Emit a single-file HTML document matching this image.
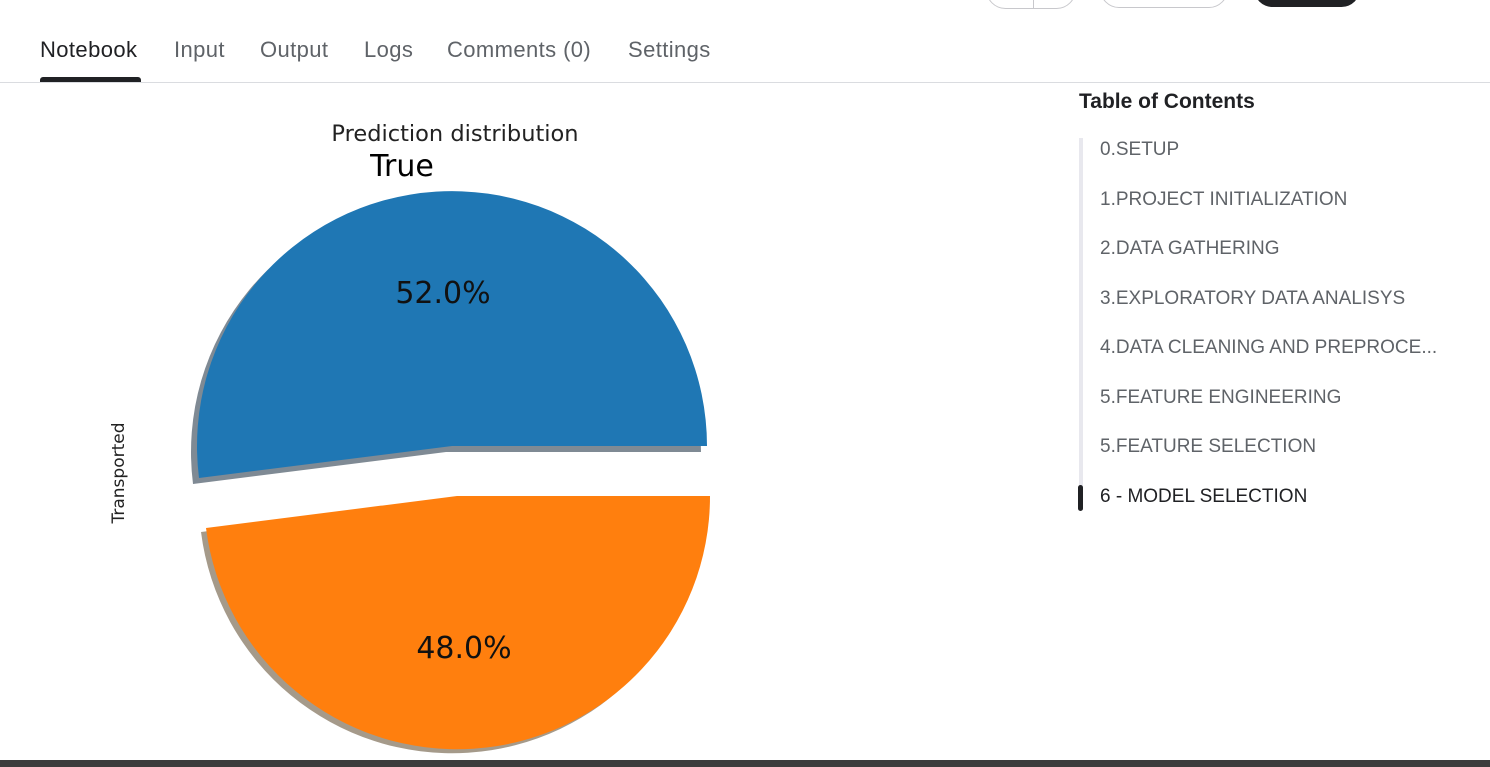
<!DOCTYPE html>
<html><head><meta charset="utf-8"><style>
body{margin:0;width:1490px;height:767px;background:#fff;position:relative;overflow:hidden;font-family:"Liberation Sans",sans-serif;}
.tab{position:absolute;top:37px;font-size:22px;letter-spacing:0.4px;color:#5f6368;}
.toc{position:absolute;left:1100px;font-size:19px;color:#5f6368;}
</style></head><body>
<div style="position:absolute;left:986px;top:-30px;width:88px;height:37px;border:1px solid #c8c8cc;border-radius:20px;"></div>
<div style="position:absolute;left:1033px;top:0;width:1px;height:8px;background:#c8c8cc"></div>
<div style="position:absolute;left:1100px;top:-30px;width:126px;height:36px;border:1px solid #c8c8cc;border-radius:20px;"></div>
<div style="position:absolute;left:1254px;top:-30px;width:106px;height:37px;background:#202124;border-radius:20px;"></div>

<div class="tab" style="left:40px;color:#202124">Notebook</div>
<div class="tab" style="left:174px">Input</div>
<div class="tab" style="left:260px">Output</div>
<div class="tab" style="left:364px">Logs</div>
<div class="tab" style="left:447px">Comments (0)</div>
<div class="tab" style="left:628px">Settings</div>
<div style="position:absolute;left:40px;top:77px;width:101px;height:6px;background:#202124;border-radius:3px 3px 0 0"></div>
<div style="position:absolute;left:0;top:82px;width:1490px;height:1px;background:#dadce0"></div>

<svg style="position:absolute;left:0;top:0" width="1060" height="767">
<g font-family="DejaVu Sans, sans-serif" fill="#000">
<text x="455" y="141" font-size="22.5" text-anchor="middle" fill="#222">Prediction distribution</text>
<text x="402" y="176" font-size="30" text-anchor="middle">True</text>
<text x="124" y="473" font-size="17" text-anchor="middle" transform="rotate(-90 124 473)" fill="#222">Transported</text>
</g>
<path d="M446,452 L701,452 A255 255 0 1 0 193,484 Z" fill="#7f8a94"/>
<path d="M452,446 L707,446 A255 255 0 1 0 199,478 Z" fill="#1f77b4"/>
<path d="M452,500 L201,532 A253 253 0 0 0 705,500 Z" fill="#a59a8a"/>
<path d="M457,496 L206,528 A253 253 0 0 0 710,496 Z" fill="#ff7f0e"/>
<g font-family="DejaVu Sans, sans-serif" font-size="30" text-anchor="middle" fill="#111">
<text x="443" y="303">52.0%</text>
<text x="464" y="658">48.0%</text>
</g>
</svg>

<div style="position:absolute;left:1079px;top:90px;font-size:21px;font-weight:bold;color:#202124">Table of Contents</div>
<div style="position:absolute;left:1079px;top:138px;width:4px;height:372px;background:#e8e8ee"></div>
<div style="position:absolute;left:1078px;top:485px;width:5px;height:26px;background:#202124;border-radius:3px"></div>
<div class="toc" style="top:139px">0.SETUP</div>
<div class="toc" style="top:189px">1.PROJECT INITIALIZATION</div>
<div class="toc" style="top:238px">2.DATA GATHERING</div>
<div class="toc" style="top:288px">3.EXPLORATORY DATA ANALISYS</div>
<div class="toc" style="top:337px">4.DATA CLEANING AND PREPROCE...</div>
<div class="toc" style="top:387px">5.FEATURE ENGINEERING</div>
<div class="toc" style="top:436px">5.FEATURE SELECTION</div>
<div class="toc" style="top:486px;color:#202124">6 - MODEL SELECTION</div>

<div style="position:absolute;left:0;top:760px;width:1490px;height:7px;background:#3c3c3c"></div>
</body></html>
